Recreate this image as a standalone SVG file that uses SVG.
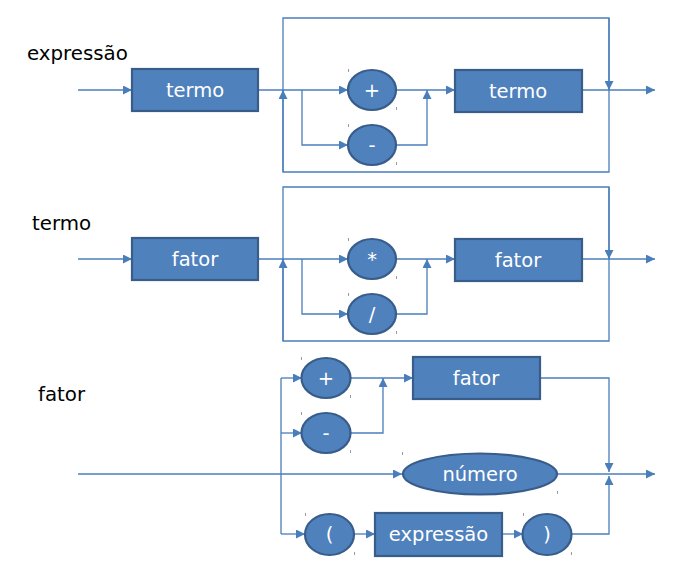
<svg xmlns="http://www.w3.org/2000/svg" width="700" height="570" viewBox="0 0 700 570">
<defs>
<marker id="ah" viewBox="0 0 10 10" refX="10" refY="5" markerWidth="9" markerHeight="9" markerUnits="userSpaceOnUse" orient="auto">
<path d="M0,0 L10,5 L0,10 Z" fill="#4a7ebb"/>
</marker>
<style>
.c{fill:none;stroke:#4a7ebb;stroke-width:1.3}
.a{marker-end:url(#ah)}
.n{fill:#4f81bd;stroke:#385d8a;stroke-width:2.2}
.t{font-family:"DejaVu Sans",sans-serif;font-size:19.5px;fill:#fff;text-anchor:middle;dominant-baseline:central}
.l{font-family:"DejaVu Sans",sans-serif;font-size:19.8px;fill:#000}
.k{fill:#9a9a9a}
</style>
</defs>
<rect width="700" height="570" fill="#fff"/>
<text class="l" x="27" y="60">expressão</text>
<text class="l" x="32" y="230">termo</text>
<text class="l" x="38" y="401">fator</text>

<g id="connectors">
<!-- expressao -->
<path class="c a" d="M78,90 H132"/>
<path class="c" d="M258,90 H302"/>
<path class="c a" d="M302,90 H348"/>
<path class="c a" d="M302,90 V145 H348"/>
<path class="c a" d="M396,90 H455"/>
<path class="c a" d="M396,145 H427 V90"/>
<path class="c a" d="M582,90 H655"/>
<path class="c" d="M283,90 V18 H609 V172 H283 Z"/>
<path class="c a" d="M283,172 V90"/>
<path class="c a" d="M609,18 V90"/>
<!-- termo -->
<path class="c a" d="M78,259 H132"/>
<path class="c" d="M258,259 H302"/>
<path class="c a" d="M302,259 H348"/>
<path class="c a" d="M302,259 V314 H348"/>
<path class="c a" d="M396,259 H455"/>
<path class="c a" d="M396,314 H427 V259"/>
<path class="c a" d="M582,259 H655"/>
<path class="c" d="M283,259 V187 H609 V341 H283 Z"/>
<path class="c a" d="M283,341 V259"/>
<path class="c a" d="M609,187 V259"/>
<!-- fator -->
<path class="c a" d="M78,474 H402"/>
<path class="c" d="M281,378 V534"/>
<path class="c a" d="M281,378 H302"/>
<path class="c a" d="M281,433 H302"/>
<path class="c a" d="M281,534 H305"/>
<path class="c a" d="M351,378 H413"/>
<path class="c a" d="M351,433 H383 V378"/>
<path class="c a" d="M540,378 H609 V472"/>
<path class="c a" d="M557,474 H655"/>
<path class="c a" d="M354,534 H375"/>
<path class="c a" d="M502,534 H523"/>
<path class="c a" d="M572,534 H609 V476"/>
</g>

<g id="ticks">
<rect class="k" x="348" y="69" width="1" height="3"/><rect class="k" x="396" y="107" width="1" height="3"/>
<rect class="k" x="348" y="124" width="1" height="3"/><rect class="k" x="396" y="162" width="1" height="3"/>
<rect class="k" x="348" y="238" width="1" height="3"/><rect class="k" x="396" y="276" width="1" height="3"/>
<rect class="k" x="348" y="293" width="1" height="3"/><rect class="k" x="396" y="331" width="1" height="3"/>
<rect class="k" x="301" y="357" width="1" height="3"/><rect class="k" x="350" y="395" width="1" height="3"/>
<rect class="k" x="301" y="412" width="1" height="3"/><rect class="k" x="350" y="450" width="1" height="3"/>
<rect class="k" x="402" y="452" width="1" height="3"/><rect class="k" x="557" y="491" width="1" height="3"/>
<rect class="k" x="305" y="513" width="1" height="3"/><rect class="k" x="354" y="552" width="1" height="3"/>
<rect class="k" x="523" y="513" width="1" height="3"/><rect class="k" x="571" y="552" width="1" height="3"/>
</g>

<g id="n-termo1"><rect class="n" x="132" y="69" width="126" height="42"/><text class="t" x="195" y="90">termo</text></g>
<g id="n-plus1"><ellipse class="n" cx="372" cy="90" rx="24" ry="20"/><text class="t" x="372" y="90">+</text></g>
<g id="n-minus1"><ellipse class="n" cx="372" cy="145" rx="24" ry="20"/><text class="t" x="372" y="145">-</text></g>
<g id="n-termo2"><rect class="n" x="455" y="70" width="127" height="42"/><text class="t" x="518" y="91">termo</text></g>

<g id="n-fator1"><rect class="n" x="132" y="238" width="126" height="42"/><text class="t" x="195" y="259">fator</text></g>
<g id="n-times"><ellipse class="n" cx="372" cy="259" rx="24" ry="20"/><text class="t" x="372" y="259">*</text></g>
<g id="n-div"><ellipse class="n" cx="372" cy="314" rx="24" ry="20"/><text class="t" x="372" y="314">/</text></g>
<g id="n-fator2"><rect class="n" x="455" y="239" width="127" height="42"/><text class="t" x="518" y="260">fator</text></g>

<g id="n-plus3"><ellipse class="n" cx="326" cy="378" rx="24.5" ry="20"/><text class="t" x="326" y="378">+</text></g>
<g id="n-minus3"><ellipse class="n" cx="326" cy="433" rx="24.5" ry="20"/><text class="t" x="326" y="433">-</text></g>
<g id="n-fator3"><rect class="n" x="413" y="357" width="127" height="42"/><text class="t" x="476" y="378">fator</text></g>
<g id="n-numero"><ellipse class="n" cx="480" cy="474" rx="77" ry="20.5"/><text class="t" x="480" y="474">número</text></g>
<g id="n-lpar"><ellipse class="n" cx="329.5" cy="534.5" rx="24.5" ry="20.5"/><text class="t" x="329.5" y="534">(</text></g>
<g id="n-expr"><rect class="n" x="375" y="513" width="127" height="43"/><text class="t" x="438.5" y="534.5">expressão</text></g>
<g id="n-rpar"><ellipse class="n" cx="547" cy="534.5" rx="24.5" ry="20.5"/><text class="t" x="547" y="534">)</text></g>
</svg>
